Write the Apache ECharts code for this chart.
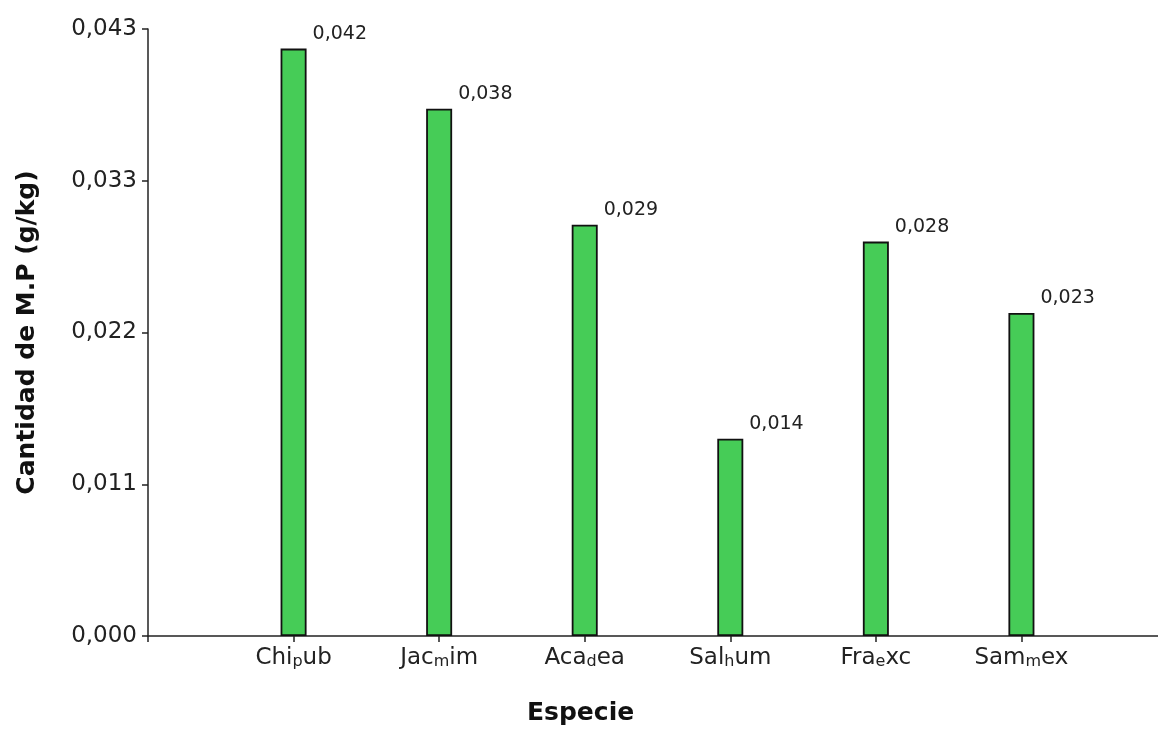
<!DOCTYPE html>
<html>
<head>
<meta charset="utf-8">
<script src="https://cdn.jsdelivr.net/npm/echarts@6/dist/echarts.min.js"></script>
<style>
  html, body { margin: 0; padding: 0; background: #fff; }
  #chart { width: 1158px; height: 729px; }
</style>
</head>
<body>
<div id="chart"></div>
<script>
// species codes: main part + subscript letter + rest
const speciesPre = ['Chi', 'Jac', 'Aca', 'Sal', 'Fra', 'Sam']
const speciesSub = ['p', 'm', 'd', 'h', 'e', 'm']
const speciesPost = ['ub', 'im', 'ea', 'um', 'xc', 'ex']
// cantidad de M.P (g/kg)
const mpValues = [0.0420, 0.0377, 0.0294, 0.0141, 0.0282, 0.0231]
const yTickLabels = ['0,000', '0,011', '0,022', '0,033', '0,043']
const yMax = 0.0434

const fontFam = 'DejaVu Sans, Verdana, sans-serif'

// empty slot on each side so the bars sit at 1..6 like the original
const categories = [''].concat(speciesPre.map((p, i) => '{a|' + p + '}{s|' + speciesSub[i] + '}{a|' + speciesPost[i] + '}'), [''])
const barData = ['-'].concat(mpValues, ['-'])

const chart = echarts.init(document.getElementById('chart'))
chart.setOption({
  backgroundColor: '#fff',
  animation: false,
  textStyle: { fontFamily: fontFam },
  grid: { left: 148, top: 29, width: 1019, height: 607, outerBoundsMode: 'none', containLabel: false },
  graphic: [{
    type: 'text',
    left: 527,
    top: 701,
    style: { text: 'Especie', font: 'bold 25px ' + fontFam, fill: '#111' }
  }],
  xAxis: {
    type: 'category',
    boundaryGap: false,
    data: categories,
    axisLine: { lineStyle: { color: '#222', width: 1.5 } },
    axisTick: { length: 6, lineStyle: { color: '#222', width: 1.5 } },
    axisLabel: {
      interval: 0,
      margin: 10,
      color: '#222',
      rich: {
        a: { fontSize: 23, lineHeight: 24, color: '#222', fontFamily: fontFam },
        s: { fontSize: 16, lineHeight: 6, verticalAlign: 'bottom', color: '#222', fontFamily: fontFam }
      }
    },
    splitLine: { show: false }
  },
  yAxis: {
    type: 'value',
    min: 0,
    max: yMax,
    interval: yMax / 4,
    name: 'Cantidad de M.P (g/kg)',
    nameLocation: 'middle',
    nameGap: 108,
    nameTextStyle: { fontSize: 25, fontWeight: 'bold', color: '#111', fontFamily: fontFam },
    axisLine: { show: true, lineStyle: { color: '#222', width: 1.5 } },
    axisTick: { show: true, length: 6, lineStyle: { color: '#222', width: 1.5 } },
    axisLabel: {
      margin: 11,
      fontSize: 23,
      color: '#222',
      formatter(v, i) {
        return yTickLabels[i]
      }
    },
    splitLine: { show: false }
  },
  series: [{
    type: 'bar',
    barWidth: 26,
    data: barData,
    itemStyle: {
      color: '#46cc57',
      borderColor: '#111',
      borderWidth: 1.8
    },
    label: {
      show: true,
      position: 'top',
      align: 'left',
      distance: 5,
      offset: [19, 0],
      fontSize: 19,
      color: '#222',
      formatter(p) {
        return p.value.toFixed(3).replace('.', ',')
      }
    }
  }]
})
</script>
</body>
</html>
